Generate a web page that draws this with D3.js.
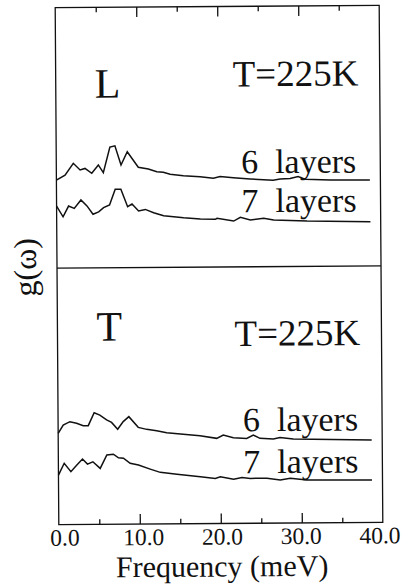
<!DOCTYPE html>
<html>
<head>
<meta charset="utf-8">
<script src="https://cdn.jsdelivr.net/npm/d3@7"></script>
<style>
  html, body { margin: 0; padding: 0; background: #fff; }
  svg { display: block; }
</style>
</head>
<body>
<div id="chart"></div>
<script>
// Phonon density of states g(ω), longitudinal (L) and transverse (T), T = 225 K
const xTicks = [0, 5, 10, 15, 20, 25, 30, 35, 40];
const xTickLabels = ["0.0", "10.0", "20.0", "30.0", "40.0"];
const xLabelValues = [0, 10, 20, 30, 40];

// Longitudinal, 6 layers
const freqL6 = [0, 1.07, 2.10, 2.93, 3.54, 4.37, 5.19, 5.80, 6.63, 7.25, 7.99, 8.77, 10.12, 11.36, 12.40, 13.21, 14.04, 15.68, 17.74, 19.38, 20.21, 21.85, 23.91, 26.75, 27.62, 28.85, 29.84, 30.70, 33.79, 38.70];
const gL6 = [3.38, 3.57, 4.02, 3.76, 3.82, 3.63, 3.95, 3.65, 4.63, 4.68, 3.94, 4.45, 3.85, 3.78, 3.67, 3.65, 3.57, 3.51, 3.47, 3.41, 3.47, 3.42, 3.37, 3.32, 3.36, 3.38, 3.45, 3.35, 3.31, 3.30];

// Longitudinal, 7 layers
const freqL7 = [0, 0.79, 1.48, 2.18, 3.01, 3.75, 4.49, 5.19, 5.80, 6.54, 7.25, 7.95, 8.77, 9.31, 10.12, 10.95, 11.98, 13.21, 15.68, 17.74, 19.59, 19.80, 21.85, 22.68, 23.91, 25.56, 26.79, 30.91, 38.73];
const gL7 = [2.38, 1.97, 2.38, 2.29, 2.61, 2.38, 2.06, 2.15, 2.31, 2.41, 3.01, 3.01, 2.34, 2.44, 2.17, 2.23, 2.10, 1.98, 1.90, 1.85, 1.83, 1.87, 1.76, 1.90, 1.80, 1.86, 1.79, 1.74, 1.70];

// Transverse, 6 layers
const freqT6 = [0, 0.63, 1.46, 2.28, 3.10, 3.72, 4.46, 5.16, 5.99, 6.60, 7.35, 8.04, 8.74, 9.89, 10.93, 12.16, 13.40, 15.44, 17.51, 19.57, 20.38, 21.62, 23.27, 24.09, 24.91, 26.56, 27.38, 29.02, 38.70];
const gT6 = [3.56, 3.88, 4.01, 3.95, 3.85, 3.85, 4.35, 4.26, 4.07, 3.97, 3.70, 4.00, 4.19, 3.77, 3.69, 3.63, 3.55, 3.49, 3.43, 3.32, 3.45, 3.34, 3.31, 3.44, 3.31, 3.28, 3.34, 3.27, 3.21];

// Transverse, 7 layers
const freqT7 = [0, 0.72, 1.54, 2.28, 2.98, 3.59, 4.26, 5.16, 5.99, 6.80, 7.42, 8.04, 8.86, 9.89, 11.33, 12.57, 14.63, 17.51, 19.36, 19.98, 21.62, 22.66, 23.68, 25.74, 27.38, 28.62, 30.68, 38.70];
const gT7 = [1.93, 2.39, 2.06, 2.32, 2.55, 2.35, 2.44, 2.18, 2.70, 2.73, 2.59, 2.57, 2.37, 2.30, 2.14, 2.01, 1.93, 1.83, 1.76, 1.82, 1.72, 1.79, 1.75, 1.75, 1.68, 1.74, 1.67, 1.65];

const panelNames = ["L", "T"];
const tempLabel = "T=225K";
const seriesLabels = ["6\u00A0\u00A0layers", "7\u00A0\u00A0layers"];

const W = 414, H = 584;
const fLeft = 57, fRight = 381, fTop = 6.5, fMid = 267, fBottom = 523.5;
const serif = "'Liberation Serif', 'DejaVu Serif', serif";

const svg = d3.select("#chart").append("svg")
  .attr("width", W).attr("height", H)
  .attr("font-family", serif);

// whole figure sits slightly tilted
const g = svg.append("g").attr("transform", "rotate(-0.4 219 265)");

const x = d3.scaleLinear().domain([0, 40]).range([fLeft, fRight]);
const xLab = d3.scaleLinear().domain([0, 40]).range([63, 378]);
const yTop = d3.scaleLinear().domain([0, 10]).range([fMid, fTop]);
const yBot = d3.scaleLinear().domain([0, 10]).range([fBottom, fMid]);

const ink = "#111";

function label(sel) {
  return sel.style("font-family", serif).attr("fill", ink);
}

// frame and panel divider
g.append("rect").attr("x", fLeft).attr("y", fTop)
  .attr("width", fRight - fLeft).attr("height", fBottom - fTop)
  .attr("fill", "none").attr("stroke", ink).attr("stroke-width", 1.3);
g.append("line").attr("x1", fLeft).attr("x2", fRight)
  .attr("y1", fMid).attr("y2", fMid)
  .attr("stroke", ink).attr("stroke-width", 1.3);

// ticks on top and bottom edges (inward), major every 10, minor every 5
const inner = xTicks.filter(v => v > 0 && v < 40);
const tickLen = v => (v % 10 === 0 ? 10 : 5);

const topAxis = d3.axisTop(x).tickValues(inner).tickSizeInner(0).tickSizeOuter(0).tickFormat("");
const ta = g.append("g").attr("transform", `translate(0,${fTop})`).call(topAxis);
ta.select(".domain").remove();
ta.selectAll(".tick line").attr("y2", v => tickLen(v)).attr("stroke", ink).attr("stroke-width", 1.3);

const botAxis = d3.axisBottom(x).tickValues(inner).tickSizeInner(0).tickSizeOuter(0).tickFormat("");
const ba = g.append("g").attr("transform", `translate(0,${fBottom})`).call(botAxis);
ba.select(".domain").remove();
ba.selectAll(".tick line").attr("y2", v => -tickLen(v)).attr("stroke", ink).attr("stroke-width", 1.3);

// tick labels
g.selectAll("text.xlab").data(xLabelValues).enter().append("text")
  .attr("class", "xlab")
  .attr("x", v => xLab(v)).attr("y", 544.5)
  .attr("text-anchor", "middle")
  .attr("font-size", 23.5)
  .call(label)
  .text((v, i) => xTickLabels[i]);

// axis titles
g.append("text").attr("x", 220).attr("y", 576.5)
  .attr("text-anchor", "middle").attr("font-size", 30)
  .call(label)
  .text("Frequency (meV)");
g.append("text").attr("transform", "translate(36,266) rotate(-90)")
  .attr("text-anchor", "middle").attr("font-size", 32)
  .call(label)
  .text("g(ω)");

// curves
const series = [
  { f: freqL6, v: gL6, y: yTop },
  { f: freqL7, v: gL7, y: yTop },
  { f: freqT6, v: gT6, y: yBot },
  { f: freqT7, v: gT7, y: yBot }
];
series.forEach(s => {
  const pts = s.f.map((f, i) => [f, s.v[i]]);
  const line = d3.line().x(d => x(d[0])).y(d => s.y(d[1]));
  g.append("path").datum(pts)
    .attr("d", line)
    .attr("fill", "none").attr("stroke", ink)
    .attr("stroke-width", 1.5).attr("stroke-linejoin", "miter");
});

// panel annotations
const panels = [
  { name: panelNames[0], nameY: 97, tempY: 86.5, labY: [173.5, 212.5] },
  { name: panelNames[1], nameY: 340, tempY: 346, labY: [431.5, 473.5] }
];
panels.forEach(p => {
  g.append("text").attr("x", 96).attr("y", p.nameY)
    .attr("font-size", 42).call(label).text(p.name);
  g.append("text").attr("x", 234).attr("y", p.tempY)
    .attr("font-size", 37).call(label).text(tempLabel);
  seriesLabels.forEach((lab, i) => {
    g.append("text").attr("x", 357).attr("y", p.labY[i])
      .attr("text-anchor", "end").attr("font-size", 34).call(label).text(lab);
  });
});
</script>
</body>
</html>
